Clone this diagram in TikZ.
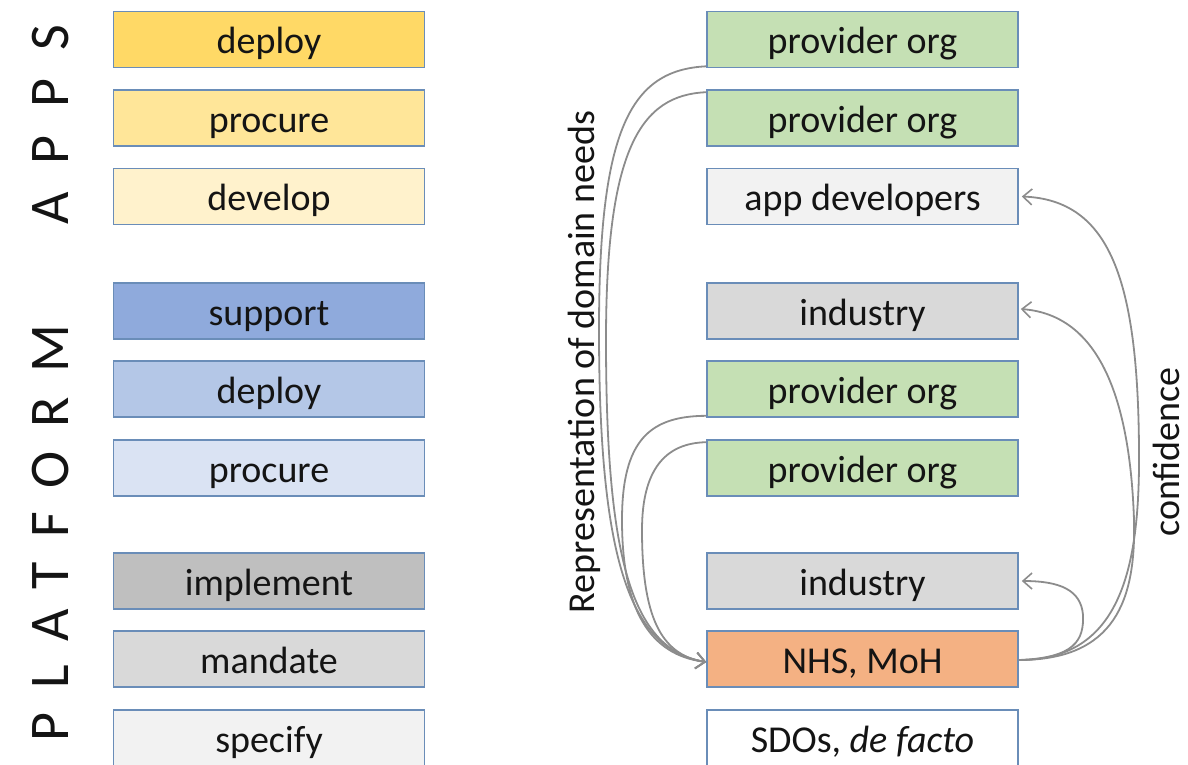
\documentclass[tikz,border=0pt]{standalone}
\usepackage{fontspec}
\setmainfont{Carlito}
\usetikzlibrary{arrows.meta}
\definecolor{bordc}{HTML}{6A8DB8}
\definecolor{arrc}{HTML}{8C8C8C}
\definecolor{cA}{HTML}{FFD966}
\definecolor{cB}{HTML}{FFE699}
\definecolor{cC}{HTML}{FFF2CC}
\definecolor{cD}{HTML}{8FAADC}
\definecolor{cE}{HTML}{B4C7E7}
\definecolor{cF}{HTML}{DAE3F3}
\definecolor{cG}{HTML}{BFBFBF}
\definecolor{cH}{HTML}{D9D9D9}
\definecolor{cI}{HTML}{F2F2F2}
\definecolor{cgreen}{HTML}{C5E0B4}
\definecolor{corange}{HTML}{F4B183}
\definecolor{txt}{HTML}{141414}
\begin{document}
\begin{tikzpicture}[x=1pt,y=-1pt,
  box/.style={draw=bordc,line width=1.6pt,minimum width=311pt,minimum height=56pt,inner sep=0pt,
    text height=30pt,text depth=2pt,
    font=\fontsize{38}{40}\selectfont,text=txt},
  conn/.style={draw=arrc,line width=1.8pt,-{Straight Barb[length=9pt,width=16pt,line width=1.6pt]}},
  lbl/.style={font=\fontsize{38}{40}\selectfont,text=txt,inner sep=0pt,rotate=90},
  big/.style={font=\fontsize{56}{60}\selectfont,text=txt,inner sep=0pt,rotate=90}]
\useasboundingbox (0,0) rectangle (1188,764);
% left column
\node[box,fill=cA] (ad) at (269,39.5) {deploy};
\node[box,fill=cB] (ap) at (269,118) {procure};
\node[box,fill=cC] (adv) at (269,196.5) {develop};
\node[box,fill=cD] (ps) at (269,311) {support};
\node[box,fill=cE] (pd) at (269,389) {deploy};
\node[box,fill=cF] (pp) at (269,468) {procure};
\node[box,fill=cG] (pi) at (269,581) {implement};
\node[box,fill=cH] (pm) at (269,659) {mandate};
\node[box,fill=cI] (psp) at (269,738) {specify};
% right column
\node[box,fill=cgreen] (po1) at (862.5,39.5) {provider org};
\node[box,fill=cgreen] (po2) at (862.5,118) {provider org};
\node[box,fill=cI] (dev) at (862.5,196.5) {app developers};
\node[box,fill=cH] (ind1) at (862.5,311) {industry};
\node[box,fill=cgreen] (po3) at (862.5,389) {provider org};
\node[box,fill=cgreen] (po4) at (862.5,468) {provider org};
\node[box,fill=cH] (ind2) at (862.5,581) {industry};
\node[box,fill=corange] (nhs) at (862.5,659) {NHS, MoH};
\node[box,fill=white] (sdo) at (862.5,738) {SDOs, \textit{de facto}};
% side titles
\node[big,anchor=base west] (apps) at (68,225) {\addfontfeatures{LetterSpace=50}APPS};
\node[big,anchor=base west] (plat) at (68,742) {\addfontfeatures{LetterSpace=43}PLATFORM};
\node[lbl,anchor=base] (rep) at (594,362) {Representation of domain needs};
\node[lbl,anchor=base] (conf) at (1179,452) {confidence};
% left connectors
\draw[conn] ([yshift=2pt]po1.south west) .. controls (630,70) and (599,130) .. (599,330)
   .. controls (599,560) and (630,650) .. ([yshift=-3pt]nhs.west);
\draw[conn] ([yshift=-3pt]po2.north west) .. controls (640,95) and (606,150) .. (606,340)
   .. controls (606,560) and (632,650) .. ([yshift=-3pt]nhs.west);
\draw[conn] ([yshift=2pt]po3.south west) .. controls (650,416) and (622,440) .. (622,520)
   .. controls (622,610) and (650,655) .. ([yshift=-3pt]nhs.west);
\draw[conn] ([yshift=-3pt]po4.north west) .. controls (665,443) and (642,470) .. (642,530)
   .. controls (642,615) and (660,655) .. ([yshift=-3pt]nhs.west);
% right connectors
\draw[conn] ([yshift=-1pt]nhs.east) .. controls (1120,660) and (1140,570) .. (1139,450)
   .. controls (1138,280) and (1110,200) .. ([xshift=3pt]dev.east);
\draw[conn] ([yshift=-1pt]nhs.east) .. controls (1115,660) and (1136,600) .. (1134,520)
   .. controls (1130,400) and (1100,315) .. ([xshift=2pt,yshift=2pt]ind1.east);
\draw[conn] ([yshift=-1pt]nhs.east) .. controls (1075,658) and (1084,640) .. (1083,615)
   .. controls (1081,590) and (1060,581) .. ([xshift=3pt]ind2.east);
\end{tikzpicture}
\end{document}
